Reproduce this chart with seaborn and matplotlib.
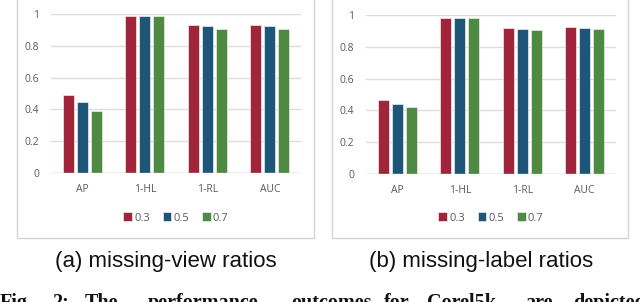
import pandas as pd
import matplotlib
matplotlib.use('Agg')
from matplotlib import pyplot as plt
from matplotlib.patches import Rectangle
import seaborn as sns

metrics = ['AP', '1-HL', '1-RL', 'AUC']
ratios = ['0.3', '0.5', '0.7']

# (a) missing-view ratios
view_03 = [0.49, 0.99, 0.933, 0.933]
view_05 = [0.448, 0.99, 0.922, 0.922]
view_07 = [0.392, 0.99, 0.903, 0.903]

# (b) missing-label ratios
label_03 = [0.465, 0.983, 0.92, 0.926]
label_05 = [0.442, 0.983, 0.914, 0.92]
label_07 = [0.42, 0.983, 0.907, 0.91]

captions = ['(a) missing-view ratios', '(b) missing-label ratios']
fig_words = ['Fig.', '2:', 'The', 'performance', 'outcomes', 'for', 'Corel5k', 'are', 'depicted']
word_x = [0, 52, 85, 148, 291, 384, 427, 525, 573]

colors = ['#A0253A', '#1E5679', '#4E8A42']


def to_long(series):
    rows = []
    for r, vals in zip(ratios, series):
        for m, v in zip(metrics, vals):
            rows.append({'metric': m, 'ratio': r, 'value': v})
    return pd.DataFrame(rows)


df_view = to_long([view_03, view_05, view_07])
df_label = to_long([label_03, label_05, label_07])

sns.set_style('white')
plt.rcParams['font.family'] = ['Open Sans', 'DejaVu Sans']

W, H = 640, 302
fig = plt.figure(figsize=(6.4, 3.02), dpi=100)


def px(x0, y_top, w, h):
    return [x0 / W, (H - y_top - h) / H, w / W, h / H]


panels = [
    (df_view, px(51, 14, 250, 159), 17, 314, 176, 166, captions[0]),
    (df_label, px(366, 15, 250, 159), 332, 628, 491, 481, captions[1]),
]

for data, pos, fx0, fx1, legx, capx, cap in panels:
    # light frame around each panel
    fig.patches.append(Rectangle((fx0 / W, (H - 238) / H), (fx1 - fx0) / W, 1.0,
                                 transform=fig.transFigure, fill=False,
                                 edgecolor='#D4D4D4', lw=1.0))
    ax = fig.add_axes(pos)
    sns.barplot(data=data, x='metric', y='value', hue='ratio', palette=colors,
                saturation=1, width=0.67, gap=0.2, edgecolor='#EDEDED',
                linewidth=0.5, ax=ax)
    ax.set_xlim(-0.5, 3.5)
    ax.set_ylim(0, 1)
    ax.set_yticks([0, 0.2, 0.4, 0.6, 0.8, 1])
    ax.set_yticklabels(['0', '0.2', '0.4', '0.6', '0.8', '1'])
    ax.set_xlabel('')
    ax.set_ylabel('')
    ax.yaxis.grid(True, color='#DCDCDC', lw=1.0)
    ax.set_axisbelow(True)
    for s in ax.spines.values():
        s.set_visible(False)
    ax.axhline(0, color='#D0D0D0', lw=1.0)
    ax.tick_params(axis='y', length=0, pad=8.5, labelsize=7.5, labelcolor='#595959')
    ax.tick_params(axis='x', length=0, pad=8, labelsize=7.5, labelcolor='#595959')

    handles, labels = ax.get_legend_handles_labels()
    ax.legend(handles, labels, loc='center', ncol=3, frameon=False,
              bbox_to_anchor=(legx / W, (H - 218) / H), bbox_transform=fig.transFigure,
              handlelength=0.8, handleheight=0.8, handletextpad=0.2,
              columnspacing=1.1, fontsize=8, labelcolor='#595959')

    fig.text(capx / W, (H - 262) / H, cap, ha='center', va='center',
             fontsize=16, family='Liberation Sans', color='#111111')

for wd, xx in zip(fig_words, word_x):
    fig.text(xx / W, (H - 308) / H, wd, ha='left', va='baseline',
             fontsize=14.5, family='Liberation Serif', weight='bold', color='#111111')

fig.savefig('out.png', dpi=100)
